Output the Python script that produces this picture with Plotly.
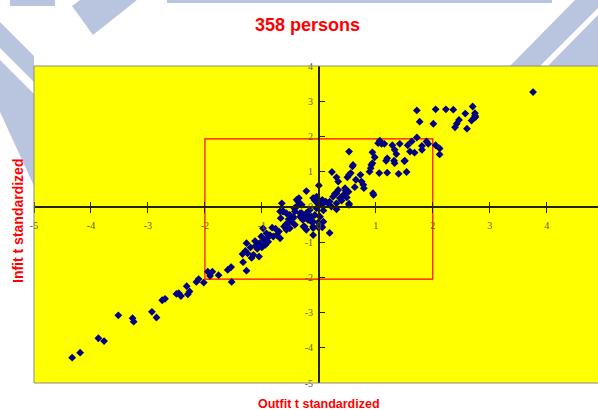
import plotly.graph_objects as go

# Outfit / infit t-standardized fit statistics per person
outfit_t = [
    -4.33, -4.19, -3.87, -3.77, -3.52, -3.27, -3.25, -2.93, -2.85, -2.75,
    -2.70, -2.50, -2.46, -2.42, -2.32, -2.30, -2.27, -2.15, -2.11, -2.02,
    -1.95, -1.91, -1.87, -1.76, -1.60, -1.54, -1.53,
    -1.34, -1.33, -1.29, -1.27, -1.27, -1.25, -1.15, -1.12, -1.11, -1.08,
    -1.05, -1.04, -1.01, -0.98, -0.96, -0.94, -0.92, -0.89, -0.86, -0.82,
    -0.80, -0.74, -0.68, -0.67, -0.65, -0.64, -0.61, -0.57, -0.54, -0.51,
    -0.48, -0.45, -0.43, -0.42, -0.39, -0.35, -0.33, -0.30, -0.25, -0.22,
    -0.19, -0.16, -0.13, -0.10, -0.10, -0.04, -0.02, 0.00, 0.02, 0.05, 0.06,
    -1.20, -1.18, -1.00, -0.90, -0.70, -0.76, -0.58, -0.53,
    0.00, -0.36, -0.38, -0.07, -0.04, -0.01, 0.02, 0.05, 0.08, 0.19, 0.22,
    0.25, 0.31, 0.34, 0.37, 0.43, 0.46, 0.52, 0.53, 0.63,
    -0.62, -0.57, -0.51, -0.45, -0.42, -0.33, -0.30, -0.28, -0.22, -0.19,
    -0.13, -0.10, -0.07, -0.01, 0.02, 0.08, -0.10, 0.19,
    1.77, 2.01, 1.07, 1.04, 1.10, 1.15, 1.29, 1.33, 1.36, 1.42, 1.56, 1.60,
    1.63, 1.68, 1.72, 1.89, 1.92, 0.53, 0.94, 0.98, 1.20, 1.18, 1.32, 1.33,
    1.51, 0.23, 0.31, 0.34, 0.50, 0.53, 0.56, 0.59, 0.60, 0.65, 0.73, 0.75,
    0.78, 0.79, 0.89, 0.91, 0.92, 0.94, 0.95, 0.96, 1.06, 1.20, 1.40, 1.54,
    0.12, 0.16, 0.28, 0.40, 0.31, 0.31, 0.47, 0.49, 0.53, 0.08,
    -0.25, -0.17, -0.27, -0.22, -0.10, -0.01, 0.06, -0.30, -0.68, -0.42,
    3.76, 1.72, 2.05, 2.23, 2.36, 2.70, 2.57, 2.74, 2.74, 2.72, 2.68, 2.75,
    2.46, 2.42, 2.39, 2.60, 1.81, 1.81, 2.05, 2.12, 2.12, 1.50,
]
infit_t = [
    -4.28, -4.14, -3.73, -3.81, -3.08, -3.16, -3.26, -2.98, -3.14, -2.65,
    -2.61, -2.47, -2.45, -2.53, -2.25, -2.48, -2.40, -2.13, -2.05, -2.15,
    -1.84, -1.96, -1.84, -1.94, -1.79, -1.71, -2.13,
    -1.34, -1.57, -1.25, -1.03, -1.81, -1.32, -1.36, -0.97, -1.10, -1.19,
    -1.41, -1.03, -0.84, -0.61, -0.94, -1.08, -0.75, -0.99, -0.80, -0.59,
    -0.84, -0.80, -0.89, -0.32, 0.10, -0.13, -0.56, -0.65, -0.46, -0.61,
    -0.42, -0.32, -0.04, -0.51, 0.20, 0.25, -0.28, -0.18, -0.56, 0.45,
    -0.23, -0.09, -0.42, -0.80, 0.25, -0.04, 0.10, 0.06, -0.51, -0.56, 0.20,
    -1.15, -1.45, -1.15, -0.88, -0.70, -0.62, -0.50, -0.35,
    0.61, 0.15, 0.03, 0.18, 0.29, 0.11, 0.15, 0.06, 0.12, 0.15, 0.01,
    0.29, 0.39, 0.48, 0.25, 0.34, 0.53, 0.43, 0.06, 0.56,
    -0.13, -0.18, -0.23, -0.28, -0.13, -0.18, -0.28, -0.37, -0.18, -0.37,
    -0.28, -0.42, -0.23, -0.44, -0.28, -0.42, -0.60, -0.74,
    2.42, 2.36, 1.88, 1.81, 1.79, 1.79, 1.75, 1.62, 1.50, 1.79, 1.75, 1.57,
    1.86, 1.54, 1.97, 1.86, 1.79, 1.57, 1.55, 1.41, 1.38, 1.31, 1.31, 1.24,
    1.31, 0.99, 0.84, 0.72, 0.84, 0.91, 0.96, 1.15, 1.19, 0.77, 0.91, 0.72,
    0.63, 0.53, 1.00, 1.10, 1.19, 1.24, 0.39, 0.34, 0.96, 0.97, 0.94, 0.99,
    0.15, 0.10, 0.37, 0.18, 0.10, -0.07, 0.46, 0.27, 0.09, -0.10,
    -0.32, -0.37, -0.56, -0.65, -0.56, -0.58, -0.58, 0.06, -0.13, -0.04,
    3.26, 2.74, 2.77, 2.77, 2.76, 2.85, 2.65, 2.66, 2.59, 2.52, 2.45, 2.55,
    2.47, 2.36, 2.26, 2.22, 1.73, 1.62, 1.75, 1.66, 1.49, 1.30,
]

tick_values = [-5, -4, -3, -2, -1, 0, 1, 2, 3, 4]
tick_labels = ["-5", "-4", "-3", "-2", "-1", "0", "1", "2", "3", "4"]

# acceptance band for fit statistics
band_x = [-2, 2]
band_y = [-2.05, 1.93]

X_RANGE = [-5, 4.9]
Y_RANGE = [-5, 4]

W, H = 598, 410
ML, MR, MT, MB = 34, 0, 66, 27
PW, PH = W - ML - MR, H - MT - MB


def px_x(px):
    return (px - ML) / PW


def px_y(py):
    return (H - MB - py) / PH


axis_line = "#222200"
tick_font = dict(family="Liberation Serif", size=10, color="#5a5a3a")

fig = go.Figure()
fig.add_trace(go.Scatter(
    x=outfit_t, y=infit_t, mode="markers",
    marker=dict(symbol="diamond", size=6, color="#000080",
                line=dict(width=0)),
    showlegend=False, hoverinfo="x+y",
))
# helper trace so the upper tick set of the horizontal axis is rendered
fig.add_trace(go.Scatter(
    x=[0], y=[0], xaxis="x2", mode="markers",
    marker=dict(opacity=0), showlegend=False, hoverinfo="skip",
))

x_cross = (0 - Y_RANGE[0]) / (Y_RANGE[1] - Y_RANGE[0])
y_cross = (0 - X_RANGE[0]) / (X_RANGE[1] - X_RANGE[0])

# faint background decoration, kept outside the plotting area
wm = "#b9c5df"
decor = [
    [(10, 0), (55, 0), (55, 6), (10, 6)],
    [(72, 6), (80, 0), (137, 0), (93, 35)],
    [(167, 0), (552, 0), (552, 3), (167, 3)],
    [(0, 22), (34, 56), (34, 82), (0, 48)],
    [(0, 60), (34, 94), (34, 186), (0, 112)],
    [(510, 66), (575, 0), (598, 0), (598, 8), (540, 66)],
    [(548, 66), (598, 15), (598, 66)],
]
shapes = []
for poly in decor:
    path = "M " + " L ".join(f"{px_x(a):.4f},{px_y(b):.4f}" for a, b in poly) + " Z"
    shapes.append(dict(type="path", path=path, xref="paper", yref="paper",
                       fillcolor=wm, line=dict(width=0), layer="below"))

# plot-area frame (top, left, bottom)
shapes.append(dict(type="path", path="M 1,1 L 0,1 L 0,0 L 1,0",
                   xref="paper", yref="paper",
                   line=dict(color="#8a8a8a", width=1)))
# band rectangle
shapes.append(dict(type="rect", xref="x", yref="y",
                   x0=band_x[0], x1=band_x[1], y0=band_y[0], y1=band_y[1],
                   line=dict(color="#ff0000", width=1.2), layer="below"))

fig.update_layout(
    width=W, height=H,
    margin=dict(l=ML, r=MR, t=MT, b=MB, pad=0),
    paper_bgcolor="white", plot_bgcolor="#ffff00",
    shapes=shapes,
    xaxis=dict(
        range=X_RANGE, anchor="free", position=x_cross,
        showgrid=False, zeroline=False, showline=True,
        linecolor=axis_line, linewidth=1.5,
        tickmode="array", tickvals=tick_values, ticktext=tick_labels,
        ticks="outside", ticklen=5, tickwidth=1.2, tickcolor=axis_line,
        tickfont=tick_font, ticklabelstandoff=4,
    ),
    xaxis2=dict(
        range=X_RANGE, overlaying="x", anchor="free", position=x_cross,
        side="top", showgrid=False, zeroline=False, showline=False,
        tickmode="array", tickvals=tick_values,
        ticks="outside", ticklen=5, tickwidth=1.2, tickcolor=axis_line,
        showticklabels=False,
    ),
    yaxis=dict(
        range=Y_RANGE, anchor="free", position=y_cross,
        showgrid=False, zeroline=False, showline=True,
        linecolor=axis_line, linewidth=1.5,
        tickmode="array", tickvals=tick_values, ticktext=tick_labels,
        ticks="inside", ticklen=5, tickwidth=1.2, tickcolor=axis_line,
        tickfont=tick_font, ticklabelstandoff=3,
    ),
    annotations=[
        dict(text="<b>358 persons</b>", x=px_x(307), y=px_y(25),
             xref="paper", yref="paper", xanchor="center", yanchor="middle",
             showarrow=False,
             font=dict(family="Liberation Sans", size=18, color="#ff0000")),
        dict(text="<b>Outfit t standardized</b>", x=px_x(319), y=px_y(404),
             xref="paper", yref="paper", xanchor="center", yanchor="middle",
             showarrow=False,
             font=dict(family="Liberation Sans", size=12.5, color="#ff0000")),
        dict(text="<b>Infit t standardized</b>", x=px_x(18), y=px_y(221),
             xref="paper", yref="paper", xanchor="center", yanchor="middle",
             showarrow=False, textangle=-90,
             font=dict(family="Liberation Sans", size=14, color="#ff0000")),
    ],
)

fig.write_html("out.html")
